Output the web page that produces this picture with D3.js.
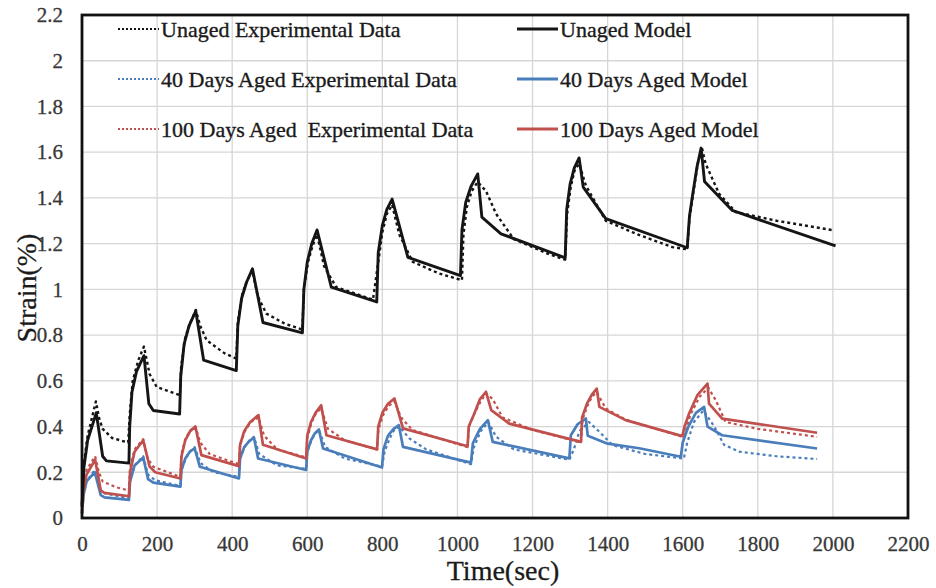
<!DOCTYPE html>
<html>
<head>
<meta charset="utf-8">
<script src="https://cdn.jsdelivr.net/npm/d3@7"></script>
<style>
  html, body { margin: 0; padding: 0; background: #fff; }
  svg { display: block; }
</style>
</head>
<body>
<div id="chart"></div>
<script>
// ---------- data ----------
const xTicks = [0, 200, 400, 600, 800, 1000, 1200, 1400, 1600, 1800, 2000, 2200];
const yTicks = [0, 0.2, 0.4, 0.6, 0.8, 1, 1.2, 1.4, 1.6, 1.8, 2, 2.2];

const unagedModel = [
  [0,0.05],[5,0.22],[15,0.34],[38,0.46],[55,0.27],[65,0.25],[125,0.24],
  [127,0.40],[133,0.55],[145,0.64],[165,0.71],[178,0.50],[190,0.47],[260,0.455],
  [263,0.62],[272,0.76],[285,0.84],[303,0.905],[324,0.69],[411,0.645],
  [415,0.84],[425,0.96],[438,1.03],[454,1.09],[482,0.855],[587,0.81],
  [591,1.00],[600,1.12],[612,1.20],[626,1.26],[664,1.01],[785,0.945],
  [789,1.16],[800,1.28],[812,1.35],[826,1.395],[868,1.14],[1008,1.06],
  [1012,1.26],[1022,1.38],[1036,1.45],[1054,1.505],[1065,1.316],[1116,1.243],[1287,1.138],
  [1291,1.35],[1300,1.46],[1311,1.53],[1324,1.575],[1335,1.447],[1395,1.309],[1612,1.182],
  [1618,1.32],[1626,1.41],[1638,1.535],[1649,1.618],[1658,1.472],[1732,1.345],[2007,1.19]
];
const unagedExp = [
  [0,0.06],[5,0.24],[15,0.36],[37,0.51],[45,0.44],[55,0.39],[80,0.35],[123,0.33],
  [127,0.45],[135,0.60],[150,0.69],[165,0.75],[180,0.63],[199,0.573],[261,0.537],
  [264,0.66],[275,0.79],[290,0.86],[303,0.91],[315,0.84],[332,0.777],[380,0.72],[411,0.697],
  [415,0.86],[427,0.98],[440,1.04],[454,1.08],[468,0.97],[491,0.894],[540,0.85],[587,0.824],
  [591,1.00],[602,1.12],[614,1.19],[626,1.24],[645,1.10],[677,1.01],[775,0.955],
  [790,1.13],[800,1.25],[812,1.33],[826,1.37],[845,1.24],[881,1.12],[950,1.07],[1012,1.04],
  [1016,1.24],[1025,1.36],[1038,1.43],[1054,1.47],[1076,1.43],[1103,1.33],[1150,1.22],[1245,1.153],[1287,1.13],
  [1292,1.33],[1302,1.45],[1312,1.52],[1324,1.55],[1342,1.454],[1395,1.30],[1480,1.24],[1572,1.185],[1612,1.175],
  [1618,1.31],[1628,1.42],[1640,1.55],[1651,1.62],[1661,1.549],[1697,1.418],[1741,1.338],[1850,1.30],[2003,1.258]
];
const aged40Model = [
  [0,0.02],[4,0.10],[12,0.16],[34,0.20],[50,0.10],[60,0.09],[125,0.079],
  [128,0.16],[140,0.23],[163,0.265],[176,0.17],[190,0.155],[262,0.137],
  [265,0.21],[275,0.26],[287,0.29],[300,0.304],[314,0.224],[418,0.173],
  [421,0.26],[432,0.31],[445,0.335],[458,0.352],[469,0.26],[597,0.21],
  [600,0.29],[610,0.34],[620,0.37],[631,0.387],[642,0.304],[799,0.221],
  [803,0.30],[815,0.36],[830,0.39],[844,0.406],[855,0.311],[1036,0.242],
  [1041,0.326],[1060,0.39],[1081,0.428],[1094,0.333],[1298,0.261],
  [1302,0.362],[1320,0.41],[1342,0.435],[1347,0.36],[1400,0.325],[1484,0.305],[1595,0.268],
  [1600,0.33],[1615,0.40],[1635,0.46],[1657,0.486],[1666,0.40],[1705,0.362],[1958,0.304]
];
const aged40Exp = [
  [0,0.02],[4,0.10],[12,0.16],[34,0.21],[45,0.14],[55,0.11],[125,0.085],
  [128,0.16],[140,0.23],[163,0.27],[176,0.19],[195,0.165],[262,0.14],
  [265,0.21],[276,0.26],[288,0.29],[300,0.31],[316,0.24],[350,0.20],[418,0.18],
  [421,0.26],[433,0.31],[446,0.34],[458,0.355],[472,0.28],[520,0.23],[597,0.215],
  [600,0.29],[611,0.34],[621,0.37],[631,0.385],[648,0.31],[700,0.26],[799,0.225],
  [806,0.29],[820,0.35],[833,0.39],[845,0.40],[872,0.348],[917,0.30],[1036,0.235],
  [1044,0.31],[1062,0.38],[1082,0.42],[1103,0.355],[1150,0.30],[1298,0.255],
  [1310,0.30],[1325,0.38],[1350,0.42],[1378,0.377],[1413,0.319],[1500,0.28],[1603,0.26],
  [1612,0.33],[1630,0.42],[1655,0.47],[1684,0.40],[1710,0.32],[1750,0.29],[1850,0.27],[1958,0.258]
];
const aged100Model = [
  [0,0.02],[4,0.12],[12,0.19],[35,0.255],[50,0.12],[60,0.11],[125,0.095],
  [128,0.20],[140,0.29],[163,0.34],[180,0.225],[195,0.20],[262,0.173],
  [265,0.27],[275,0.34],[288,0.38],[302,0.40],[318,0.275],[418,0.227],
  [421,0.32],[432,0.38],[448,0.42],[470,0.45],[482,0.32],[597,0.26],
  [600,0.36],[610,0.42],[622,0.46],[637,0.493],[651,0.362],[786,0.30],
  [789,0.40],[800,0.46],[815,0.50],[832,0.523],[855,0.392],[1027,0.314],
  [1030,0.40],[1045,0.457],[1060,0.52],[1076,0.552],[1090,0.472],[1138,0.413],[1329,0.333],
  [1332,0.44],[1345,0.50],[1358,0.54],[1371,0.566],[1378,0.486],[1448,0.428],[1599,0.358],
  [1605,0.40],[1617,0.457],[1639,0.537],[1666,0.588],[1670,0.50],[1705,0.435],[1958,0.373]
];
const aged100Exp = [
  [0,0.02],[4,0.14],[12,0.21],[35,0.27],[45,0.20],[55,0.16],[90,0.135],[125,0.12],
  [128,0.22],[140,0.30],[163,0.345],[175,0.26],[190,0.224],[262,0.18],
  [265,0.28],[276,0.35],[290,0.385],[302,0.40],[315,0.33],[340,0.28],[418,0.235],
  [421,0.32],[434,0.38],[450,0.42],[470,0.44],[485,0.36],[520,0.30],[597,0.265],
  [600,0.35],[612,0.42],[624,0.46],[637,0.48],[655,0.39],[700,0.34],[786,0.30],
  [790,0.39],[802,0.45],[817,0.49],[832,0.51],[850,0.44],[880,0.385],[1027,0.31],
  [1031,0.40],[1046,0.46],[1062,0.51],[1076,0.545],[1094,0.52],[1120,0.44],[1200,0.385],[1329,0.33],
  [1333,0.43],[1346,0.49],[1358,0.53],[1371,0.55],[1395,0.479],[1448,0.43],[1599,0.355],
  [1605,0.36],[1620,0.45],[1645,0.53],[1668,0.57],[1688,0.515],[1714,0.42],[1800,0.39],[1958,0.355]
];

const legendLabels = [
  "Unaged Experimental Data", "Unaged Model",
  "40 Days Aged Experimental Data", "40 Days Aged Model",
  "100 Days Aged  Experimental Data", "100 Days Aged Model"
];

// ---------- layout ----------
const W = 936, H = 588;
const M = { left: 82, top: 15, right: 28, bottom: 70 };
const BLACK = "#151515", BLUE = "#4a7ebb", RED = "#c0504d";
const FONT = "'Liberation Serif', 'Times New Roman', serif";

const svg = d3.select("#chart").append("svg").attr("width", W).attr("height", H);

const x = d3.scaleLinear().domain([0, 2200]).range([M.left, W - M.right]);
const y = d3.scaleLinear().domain([0, 2.2]).range([H - M.bottom, M.top]);

// gridlines
const grid = svg.append("g").attr("stroke", "#d6d6d6").attr("stroke-width", 1.3);
grid.selectAll("line.v").data(xTicks).join("line")
  .attr("x1", d => x(d)).attr("x2", d => x(d)).attr("y1", y(0)).attr("y2", y(2.2));
grid.selectAll("line.h").data(yTicks).join("line")
  .attr("x1", x(0)).attr("x2", x(2200)).attr("y1", d => y(d)).attr("y2", d => y(d));

// axes
const xAxis = svg.append("g").attr("transform", `translate(0,${y(0)})`)
  .call(d3.axisBottom(x).tickValues(xTicks).tickSize(0).tickPadding(18).tickFormat(d => String(d)));
const yAxis = svg.append("g").attr("transform", `translate(${x(0)},0)`)
  .call(d3.axisLeft(y).tickValues(yTicks).tickSize(0).tickPadding(19).tickFormat(d => String(d)));
[xAxis, yAxis].forEach(a => {
  a.select(".domain").remove();
  a.selectAll("text").attr("font-family", FONT).attr("font-size", 21)
    .attr("fill", "#383838").attr("stroke", "#383838").attr("stroke-width", 0.3);
});

// series
const line = d3.line().x(d => x(d[0])).y(d => y(d[1]));
const series = [
  { data: aged40Exp, color: BLUE, dash: "3,3", w: 2.2 },
  { data: aged100Exp, color: RED, dash: "3,3", w: 2.2 },
  { data: unagedExp, color: BLACK, dash: "3,3", w: 2.4 },
  { data: aged40Model, color: BLUE, dash: null, w: 2.7 },
  { data: aged100Model, color: RED, dash: null, w: 2.7 },
  { data: unagedModel, color: BLACK, dash: null, w: 2.9 }
];
svg.append("g").selectAll("path").data(series).join("path")
  .attr("d", d => line(d.data))
  .attr("fill", "none")
  .attr("stroke", d => d.color)
  .attr("stroke-width", d => d.w)
  .attr("stroke-linejoin", "round")
  .attr("stroke-dasharray", d => d.dash);

// frame
svg.append("rect")
  .attr("x", x(0)).attr("y", y(2.2))
  .attr("width", x(2200) - x(0)).attr("height", y(0) - y(2.2))
  .attr("fill", "none").attr("stroke", "#111").attr("stroke-width", 2.8);

// legend
const legendItems = [
  { label: legendLabels[0], color: BLACK, dash: "2,2", col: 0, row: 0 },
  { label: legendLabels[1], color: BLACK, dash: null, col: 1, row: 0 },
  { label: legendLabels[2], color: BLUE, dash: "2,2", col: 0, row: 1 },
  { label: legendLabels[3], color: BLUE, dash: null, col: 1, row: 1 },
  { label: legendLabels[4], color: RED, dash: "2,2", col: 0, row: 2 },
  { label: legendLabels[5], color: RED, dash: null, col: 1, row: 2 }
];
const colX = [118, 517], rowY = [29, 79, 129];
const lg = svg.append("g");
const li = lg.selectAll("g").data(legendItems).join("g")
  .attr("transform", d => `translate(${colX[d.col]},${rowY[d.row]})`);
li.append("line").attr("x1", 0).attr("x2", 41).attr("y1", 0).attr("y2", 0)
  .attr("stroke", d => d.color).attr("stroke-width", d => d.dash ? 2 : 3)
  .attr("stroke-dasharray", d => d.dash);
li.append("text").attr("x", 43).attr("y", 8)
  .attr("font-family", FONT).attr("font-size", 22).attr("fill", "#1a1a1a")
  .attr("stroke", "#1a1a1a").attr("stroke-width", 0.35)
  .style("white-space", "pre")
  .text(d => d.label);

// axis titles
svg.append("text").attr("x", (x(0) + x(2200)) / 2 + 8).attr("y", 580)
  .attr("text-anchor", "middle").attr("font-family", FONT).attr("font-size", 28).attr("fill", "#1a1a1a")
  .attr("stroke", "#1a1a1a").attr("stroke-width", 0.3)
  .text("Time(sec)");
svg.append("text").attr("transform", `translate(36,288) rotate(-90)`)
  .attr("text-anchor", "middle").attr("font-family", FONT).attr("font-size", 28).attr("fill", "#1a1a1a")
  .attr("stroke", "#1a1a1a").attr("stroke-width", 0.3)
  .text("Strain(%)");
</script>
</body>
</html>
